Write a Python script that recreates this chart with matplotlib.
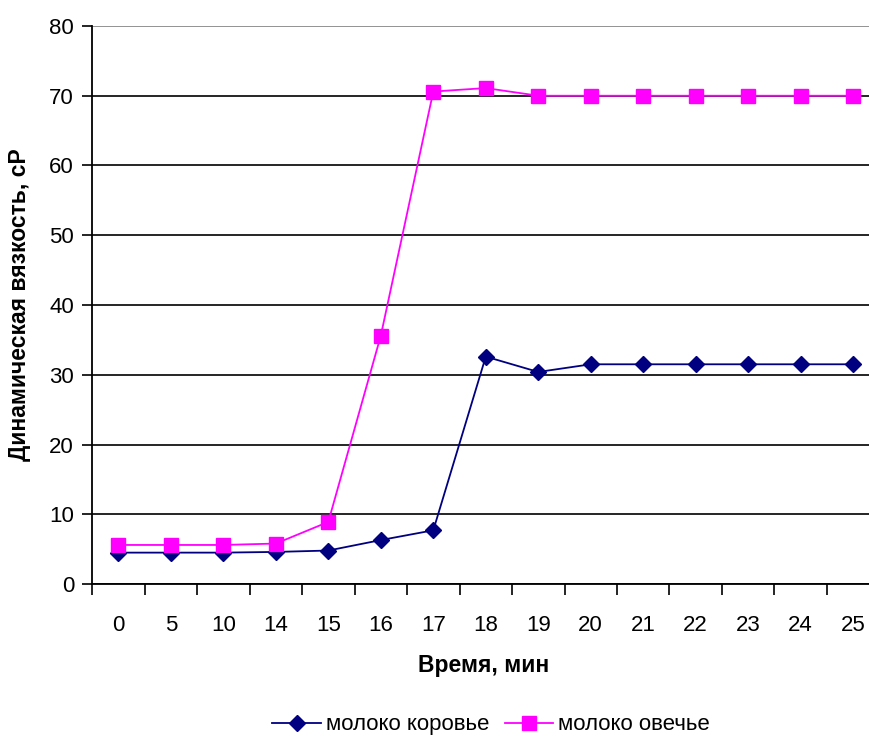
import numpy as np
import matplotlib
matplotlib.use('Agg')
import matplotlib.pyplot as plt

plt.rcParams['font.family'] = ['Liberation Sans', 'DejaVu Sans']

time_labels = ['0', '5', '10', '14', '15', '16', '17', '18', '19', '20',
               '21', '22', '23', '24', '25']
cow_milk = [4.5, 4.5, 4.5, 4.6, 4.8, 6.3, 7.7, 32.6, 30.4, 31.5,
            31.5, 31.5, 31.5, 31.5, 31.5]
sheep_milk = [5.6, 5.6, 5.6, 5.8, 8.9, 35.6, 70.6, 71.1, 70.0, 70.0,
              70.0, 70.0, 70.0, 70.0, 70.0]

fig = plt.figure(figsize=(8.69, 7.36), dpi=100)
ax = fig.add_axes([0.106, 0.2065, 0.906, 0.7582])

x = np.arange(len(time_labels))
ax.plot(x, cow_milk, color='#000080', marker='D', markersize=8,
        linewidth=1.3, label='молоко коровье', clip_on=False, zorder=3)
ax.plot(x, sheep_milk, color='#ff00ff', marker='s', markersize=9.5,
        linewidth=1.3, label='молоко овечье', clip_on=False, zorder=3)

ax.set_xlim(-0.5, len(time_labels) - 0.5)
ax.set_ylim(0, 80)
ax.set_yticks(np.arange(0, 81, 10))
ax.set_xticks(x)
ax.set_xticklabels(time_labels)
ax.set_xticks(np.arange(-0.5, len(time_labels), 1), minor=True)
ax.tick_params(axis='x', which='major', length=0, pad=22, labelsize=16)
ax.tick_params(axis='x', which='minor', length=8, width=1.2, color='black')
ax.tick_params(axis='y', length=7, width=1.2, labelsize=16, pad=6)

ax.grid(axis='y', color='black', linewidth=1.2)
ax.get_ygridlines()[-1].set_color('#808080')
ax.set_axisbelow(True)
for s in ['top', 'right']:
    ax.spines[s].set_visible(False)
for s in ['left', 'bottom']:
    ax.spines[s].set_linewidth(1.3)

ax.set_xlabel('Время, мин', fontsize=16.5, fontweight='bold')
ax.set_ylabel('Динамическая вязкость, cP', fontsize=16.5, fontweight='bold')
ax.xaxis.set_label_coords(0.497, -0.125)
ax.yaxis.set_label_coords(-0.078, 0.5)

fig.legend(loc='center', bbox_to_anchor=(0.565, 0.015), ncol=2,
           frameon=False, fontsize=16, handlelength=2.2, columnspacing=0.7,
           handletextpad=0.2)

fig.savefig('out.png', dpi=100)
